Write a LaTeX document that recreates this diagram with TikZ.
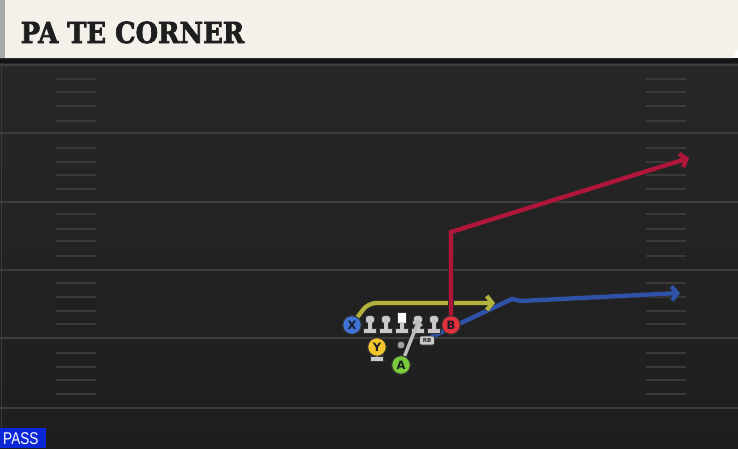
\documentclass[tikz,border=0pt]{standalone}
\usepackage{fontspec}
\setmainfont{DejaVu Sans}
\newfontfamily\titlefont[UprightFont={* Bold}, UprightFeatures={FakeBold=2.5}]{DejaVu Serif}
\newfontfamily\passfont{Liberation Sans}
\usetikzlibrary{arrows.meta}
\definecolor{fieldtop}{HTML}{272727}
\definecolor{fieldbot}{HTML}{1E1E1E}
\definecolor{yardcol}{HTML}{3D3D3D}
\definecolor{hashcol}{HTML}{3A3A3A}
\definecolor{cream}{HTML}{F4F1EA}
\definecolor{stripecol}{HTML}{A7AAA6}
\definecolor{bandcol}{HTML}{151515}
\definecolor{titlecol}{HTML}{1E1E1E}
\definecolor{redroute}{HTML}{B0163A}
\definecolor{blueroute}{HTML}{2D52A8}
\definecolor{yelroute}{HTML}{B2B13C}
\definecolor{xfill}{HTML}{3F73D6}
\definecolor{bfill}{HTML}{E2303C}
\definecolor{yfill}{HTML}{F2C52A}
\definecolor{afill}{HTML}{78CC3C}
\definecolor{linecol}{HTML}{C9C9C9}
\definecolor{fakecol}{HTML}{BEBEBE}
\definecolor{passblue}{HTML}{0C27D8}
\definecolor{lettercol}{HTML}{1A1A24}
\tikzset{
  yardline/.style={draw=yardcol, line width=2pt},
  hashline/.style={draw=hashcol, line width=1.6pt},
  route/.style={draw=#1, line width=4.3pt, line join=miter,
    -{Straight Barb[length=5.5pt,width=14pt]},
    preaction={draw=black!85, line width=5.6pt, -{Straight Barb[length=5.5pt,width=14pt]}}},
  player/.style={circle, minimum size=18.5pt, inner sep=0pt, draw=black!80, line width=0.9pt,
    text=lettercol, font=\bfseries\fontsize{11.5}{11.5}\selectfont},
  rbtag/.style={rounded corners=2pt, fill=linecol, draw=black!80, line width=0.6pt,
    minimum width=15pt, minimum height=9pt, inner sep=0pt, text=black!85,
    font=\bfseries\fontsize{5.5}{5.5}\selectfont},
  fake/.style={draw=fakecol, line width=3.4pt, -{Straight Barb[length=3pt,width=9pt]}},
}
\begin{document}
\begin{tikzpicture}[x=1pt,y=-1pt]
\useasboundingbox (0,0) rectangle (738,448);
% field
\shade[top color=fieldtop, bottom color=fieldbot] (0,58) rectangle (738,448);
\fill[bandcol] (0,58) rectangle (738,63);
\draw[draw=hashcol, line width=1pt] (1.5,63) -- (1.5,448);
\foreach \yy in {65,133,202,270,338,408} \draw[yardline] (0,\yy) -- (738,\yy);
\foreach \yy in {79,92,106,121,148,162,175,189,214,229,241,256,283,297,311,324,353,367,380,394} {
  \draw[hashline] (56,\yy) -- (96,\yy);
  \draw[hashline] (646,\yy) -- (686,\yy);
}
% banner
\fill[cream] (0,0) -- (738,0) -- (738,49) -- (733,58) -- (0,58) -- cycle;
\fill[stripecol] (0,0) rectangle (5,58);
\node[anchor=base west, inner sep=0pt, text=titlecol] (title) at (20.5,43)
  {\scalebox{0.89}[1]{\titlefont\fontsize{29}{29}\selectfont PA TE CORNER}};
% route coordinates
\coordinate (rbstart) at (429,338);
\coordinate (bk1) at (512,299);
\coordinate (bk2) at (521,301);
\coordinate (btip) at (680,293);
\coordinate (yk) at (368,303);
\coordinate (ytip) at (495,303);
\coordinate (rk) at (451,232);
\coordinate (rtip) at (689,158);
\coordinate (afake) at (419,320);
\path (352,325) coordinate (Xc) (451,325) coordinate (Bc);
% blue route
\draw[route=blueroute] (rbstart) -- (bk1) -- (bk2) -- (btip);
% yellow route
\node[player, fill=xfill] (X) at (Xc) {X};
\draw[route=yelroute, rounded corners=8pt] (X.55) -- (yk) -- (ytip);
\node[player, fill=xfill] at (Xc) {X};
% linemen
\foreach \xx in {370,386,418,434} {
  \fill[black!80] (\xx-5,315.2) [rounded corners=3pt] rectangle (\xx+5,323.8);
  \fill[black!80] (\xx-2.5,321) rectangle (\xx+2.5,331);
  \fill[black!80] (\xx-7,328.2) rectangle (\xx+7,334);
}
\fill[black!80] (397.2,312.2) rectangle (406.8,323.8);
\fill[black!80] (399.5,321) rectangle (404.5,331);
\fill[black!80] (395,328.2) rectangle (409,334);
\foreach \xx in {370,386,418,434} {
  \fill[linecol] (\xx-4,316) [rounded corners=2.5pt] rectangle (\xx+4,323);
  \fill[linecol] (\xx-1.6,322) rectangle (\xx+1.6,330);
  \fill[linecol] (\xx-6,329) rectangle (\xx+6,333);
}
\fill[white] (398,313) rectangle (406,323);
\fill[linecol] (400.4,322) rectangle (403.6,330);
\fill[linecol] (396,329) rectangle (408,333);
% Y stand
\fill[black!80] (370.2,353) rectangle (383.8,361.8);
\fill[linecol] (375.6,353) rectangle (378.4,358);
\fill[linecol] (371,357) rectangle (383,361);
% QB dot
\fill[linecol!80!black, draw=black!80, line width=0.6pt] (401,345) circle (3.8pt);
% RB tag
\node[rbtag] (RB) at (427,340.5) {RB};
% red route
\node[player, fill=bfill] (B) at (Bc) {B};
\draw[route=redroute] (B) -- (rk) -- (rtip);
\node[player, fill=bfill] at (Bc) {B};
% other players
\node[player, fill=yfill] (Y) at (377,347) {Y};
\node[player, fill=afill] (A) at (401,365) {A};
\draw[fake] (A) -- (afake);
\node[player, fill=afill] at (401,365) {A};
% PASS tag
\fill[passblue] (0,428) rectangle (46,448);
\node[anchor=base west, inner sep=0pt, text=white] (pass) at (3,444.5)
  {\scalebox{0.8}[1]{\passfont\fontsize{17}{17}\selectfont PASS}};
\end{tikzpicture}
\end{document}
